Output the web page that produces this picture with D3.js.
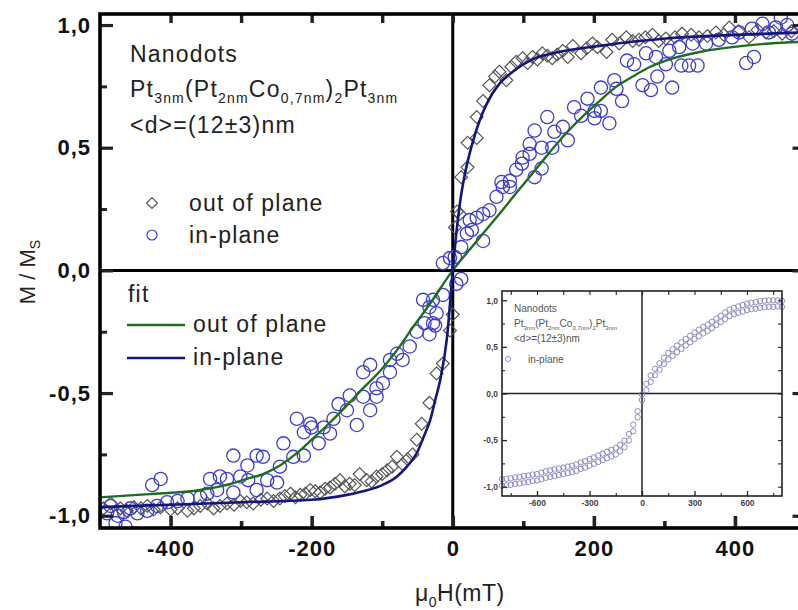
<!DOCTYPE html>
<html>
<head>
<meta charset="utf-8">
<script src="https://cdn.jsdelivr.net/npm/d3@7"></script>
<style>
  body { margin: 0; background: #fff; }
  text { font-family: Arial, "Liberation Sans", sans-serif; }
</style>
</head>
<body>
<svg id="chart" width="798" height="610"></svg>
<script>
// ---- data ----
// out of plane measurement (diamonds): [H (mT), M/Ms]
const outPlanePts = [
  [3,0.175],[6,0.24],[10,0.23],[12,0.38],[21,0.42],[21,0.52],[34,0.54],[34,0.625],[43,0.69],[52,0.755],
  [60,0.79],[66,0.81],[76,0.775],[83,0.83],[90,0.85],[99,0.865],[106,0.845],[113,0.87],[120,0.86],[127,0.885],
  [134,0.875],[141,0.865],[148,0.88],[156,0.895],[163,0.87],[170,0.915],[182,0.885],[190,0.905],[198,0.925],
  [205,0.91],[218,0.89],[226,0.94],[236,0.925],[246,0.95],[255,0.935],[264,0.94],[273,0.95],[283,0.96],
  [292,0.935],[302,0.945],[315,0.95],[325,0.965],[338,0.96],[349,0.95],[361,0.955],[373,0.97],[384,0.96],
  [392,0.99],[405,0.975],[420,0.95],[432,0.98],[444,0.97],[455,0.975],[467,0.965],[480,0.975],
  [0,-0.18],[-4,-0.245],[-14,-0.38],[-23,-0.42],[-33,-0.54],[-44,-0.625],[-51,-0.69],[-57,-0.75],[-64,-0.77],
  [-71,-0.79],[-79,-0.76],[-86,-0.8],[-93,-0.815],[-100,-0.83],[-108,-0.84],[-115,-0.86],[-122,-0.855],
  [-132,-0.83],[-139,-0.875],[-146,-0.87],[-153,-0.88],[-160,-0.855],[-167,-0.87],[-174,-0.885],[-181,-0.89],
  [-188,-0.905],[-195,-0.9],[-202,-0.895],[-209,-0.91],[-216,-0.915],[-223,-0.925],[-230,-0.91],[-238,-0.92],
  [-245,-0.93],[-254,-0.94],[-263,-0.93],[-272,-0.935],[-283,-0.95],[-292,-0.945],[-301,-0.94],[-310,-0.955],
  [-320,-0.95],[-330,-0.96],[-339,-0.97],[-348,-0.95],[-358,-0.96],[-367,-0.97],[-376,-0.98],[-390,-0.97],
  [-400,-0.975],[-414,-0.965],[-424,-0.975],[-433,-0.96],[-442,-0.97],[-452,-0.965],[-462,-0.98],
  [-471,-0.97],[-485,-0.95],[-495,-0.97]
]
// in-plane measurement (circles)
const inPlanePts = [
  [-14,0.03],[-4,0.05],[3,0.055],[12,0.095],[20,0.15],[27,0.165],[24,0.205],[34,0.215],[43,0.12],[43,0.23],
  [52,0.245],[62,0.30],[71,0.34],[69,0.36],[81,0.34],[81,0.365],[90,0.41],[99,0.46],[98,0.435],[109,0.475],
  [109,0.515],[116,0.57],[116,0.38],[126,0.50],[126,0.415],[134,0.625],[141,0.50],[144,0.565],[156,0.585],
  [163,0.53],[172,0.665],[182,0.63],[191,0.70],[201,0.65],[201,0.62],[210,0.65],[210,0.745],[222,0.60],
  [229,0.775],[232,0.74],[240,0.69],[247,0.855],[257,0.84],[269,0.755],[274,0.885],[281,0.735],[290,0.79],
  [288,0.87],[302,0.84],[307,0.895],[311,0.745],[321,0.91],[324,0.835],[335,0.835],[347,0.835],[340,0.925],
  [359,0.925],[377,0.94],[396,0.95],[416,0.845],[427,0.87],[406,0.97],[424,0.985],[439,1.005],[448,0.97],
  [465,1.03],[474,1.0],[481,0.965],[458,0.99],
  [12,-0.035],[5,-0.055],[-14,-0.10],[-42,-0.12],[-28,-0.12],[-33,-0.15],[-23,-0.175],[-28,-0.215],
  [-25,-0.225],[-40,-0.215],[-33,-0.26],[-51,-0.25],[-61,-0.31],[-71,-0.365],[-79,-0.34],[-89,-0.365],
  [-89,-0.415],[-99,-0.46],[-108,-0.48],[-117,-0.385],[-127,-0.415],[-108,-0.515],[-117,-0.57],[-127,-0.515],
  [-136,-0.63],[-146,-0.51],[-150,-0.57],[-162,-0.545],[-169,-0.605],[-174,-0.665],[-183,-0.64],[-190,-0.705],
  [-200,-0.64],[-202,-0.625],[-211,-0.66],[-221,-0.605],[-211,-0.755],[-226,-0.76],[-240,-0.705],[-245,-0.80],
  [-249,-0.865],[-263,-0.855],[-269,-0.76],[-278,-0.755],[-278,-0.895],[-290,-0.855],[-291,-0.795],
  [-301,-0.84],[-311,-0.755],[-311,-0.905],[-320,-0.85],[-330,-0.84],[-334,-0.895],[-344,-0.85],[-348,-0.91],
  [-358,-0.925],[-376,-0.93],[-390,-0.94],[-405,-0.945],[-414,-0.85],[-426,-0.875],[-419,-0.96],[-433,-0.98],
  [-447,-0.99],[-457,-0.97],[-466,-0.985],[-475,-1.0],[-478,-1.03],[-464,-1.045],[-485,-0.96],[-490,-0.99]
]
// fit curves as drawn (legend labels kept as in the figure)
const fitOutPlane = [
  [-500,-0.925],[-430,-0.912],[-358,-0.895],[-315,-0.87],[-292,-0.85],[-269,-0.83],[-245,-0.795],
  [-221,-0.745],[-198,-0.685],[-174,-0.62],[-150,-0.55],[-127,-0.48],[-103,-0.41],[-79,-0.325],
  [-56,-0.23],[-32,-0.135],[0,0],[25,0.088],[50,0.175],[66,0.23],[90,0.315],[113,0.395],[137,0.48],
  [161,0.56],[185,0.63],[208,0.69],[230,0.745],[255,0.79],[280,0.83],[302,0.855],[350,0.89],[396,0.91],
  [450,0.925],[500,0.932]
]
const fitInPlane = [
  [-500,-0.965],[-400,-0.955],[-300,-0.945],[-200,-0.935],[-150,-0.915],[-127,-0.9],[-100,-0.875],
  [-79,-0.84],[-65,-0.8],[-51,-0.745],[-40,-0.67],[-32,-0.61],[-25,-0.53],[-18,-0.45],[-8,-0.27],[0,0],
  [5,0.15],[10,0.27],[15,0.36],[20,0.43],[28,0.52],[38,0.61],[50,0.69],[66,0.76],[85,0.81],[113,0.86],
  [150,0.89],[208,0.915],[302,0.945],[400,0.96],[500,0.97]
]
// inset: in-plane loop, two branches
const insetH = [-800,-775,-750,-725,-700,-675,-650,-625,-600,-575,-550,-525,-500,-475,-450,-425,-400,
  -375,-350,-325,-300,-275,-250,-225,-200,-175,-150,-125,-100,-75,-50,-25,0,25,50,75,100,125,150,175,200,
  225,250,275,300,325,350,375,400,425,450,475,500,525,550,575,600,625,650,675,700,725,750,775,800]
const insetUp = [-0.92,-0.915,-0.91,-0.9,-0.895,-0.885,-0.88,-0.87,-0.865,-0.85,-0.835,-0.825,-0.815,
  -0.805,-0.795,-0.785,-0.775,-0.76,-0.74,-0.725,-0.705,-0.685,-0.665,-0.645,-0.625,-0.605,-0.585,-0.55,
  -0.505,-0.435,-0.335,-0.19,-0.01,0.105,0.195,0.265,0.325,0.385,0.435,0.475,0.515,0.55,0.585,0.62,0.655,
  0.685,0.715,0.74,0.77,0.805,0.835,0.87,0.9,0.92,0.935,0.95,0.965,0.975,0.98,0.99,0.995,1.0,1.0,1.0,0.995]
const insetLo = [-0.99,-0.985,-0.98,-0.97,-0.965,-0.955,-0.95,-0.94,-0.935,-0.92,-0.905,-0.895,-0.885,
  -0.875,-0.865,-0.855,-0.845,-0.83,-0.81,-0.795,-0.775,-0.755,-0.735,-0.715,-0.695,-0.675,-0.655,-0.62,
  -0.575,-0.505,-0.405,-0.255,-0.07,0.035,0.125,0.195,0.255,0.315,0.365,0.405,0.445,0.48,0.515,0.55,0.585,
  0.615,0.645,0.67,0.7,0.735,0.765,0.8,0.83,0.85,0.865,0.88,0.895,0.905,0.91,0.92,0.925,0.93,0.93,0.935,0.93]

// ticks
const xMajor = [-400, -200, 0, 200, 400]
const xMinor = [-300, -100, 100, 300]
const yMajor = [-1, -0.5, 0, 0.5, 1]
const yMinor = [-0.75, -0.25, 0.25, 0.75]
const xiMajor = [-600, -300, 0, 300, 600]
const xiMinor = [-750, -450, -150, 150, 450, 750]

const commaFmt = v => Number.isInteger(v) ? String(v) : v.toFixed(1).replace(".", ",")
const yFmt = v => v.toFixed(1).replace(".", ",")

const svg = d3.select("#chart")
svg.append("rect").attr("width", 798).attr("height", 610).attr("fill", "#fff")

// main scales
const x = d3.scaleLinear().domain([-500, 500]).range([100, 805.5])
const y = d3.scaleLinear().domain([-1.05, 1.045]).range([528, 14])

svg.append("clipPath").attr("id", "plotClip")
  .append("rect").attr("x", 100).attr("y", 14).attr("width", 705.5).attr("height", 514)

// zero lines
svg.append("line").attr("x1", x(0)).attr("x2", x(0)).attr("y1", y.range()[1]).attr("y2", y.range()[0])
  .attr("stroke", "#000").attr("stroke-width", 3)
svg.append("line").attr("x1", x.range()[0]).attr("x2", x.range()[1]).attr("y1", y(0)).attr("y2", y(0))
  .attr("stroke", "#000").attr("stroke-width", 3)

const plot = svg.append("g").attr("clip-path", "url(#plotClip)")

// diamonds
plot.selectAll("path.dia").data(outPlanePts).join("path")
  .attr("class", "dia")
  .attr("d", d3.symbol(d3.symbolDiamond2, 105))
  .attr("transform", d => `translate(${x(d[0])},${y(d[1])})`)
  .attr("fill", "none").attr("stroke", "#555").attr("stroke-width", 1.2)

// circles
plot.selectAll("circle.inp").data(inPlanePts).join("circle")
  .attr("class", "inp")
  .attr("cx", d => x(d[0])).attr("cy", d => y(d[1])).attr("r", 6.6)
  .attr("fill", "none").attr("stroke", "#3c3cd2").attr("stroke-width", 1.3)

// fit lines
const line = d3.line().x(d => x(d[0])).y(d => y(d[1])).curve(d3.curveMonotoneX)
plot.append("path").datum(fitOutPlane).attr("d", line)
  .attr("fill", "none").attr("stroke", "#1f6e1f").attr("stroke-width", 2.4)
plot.append("path").datum(fitInPlane).attr("d", line)
  .attr("fill", "none").attr("stroke", "#15157e").attr("stroke-width", 2.6)

// ---- inset ----
const xi = d3.scaleLinear().domain([-800, 800]).range([502, 782])
const yi = d3.scaleLinear().domain([-1.1, 1.1]).range([496, 291])
const inset = svg.append("g")
inset.append("rect").attr("x", 502).attr("y", 291).attr("width", 280).attr("height", 205)
  .attr("fill", "#fff")
inset.append("line").attr("x1", xi(0)).attr("x2", xi(0)).attr("y1", 291).attr("y2", 496)
  .attr("stroke", "#222").attr("stroke-width", 1.5)
inset.append("line").attr("x1", 502).attr("x2", 782).attr("y1", yi(0)).attr("y2", yi(0))
  .attr("stroke", "#222").attr("stroke-width", 1.5)

const insetPts = insetH.map((h, i) => [h, insetUp[i]]).concat(insetH.map((h, i) => [h, insetLo[i]]))
inset.selectAll("circle.ins").data(insetPts).join("circle")
  .attr("class", "ins")
  .attr("cx", d => xi(d[0])).attr("cy", d => yi(d[1])).attr("r", 2.7)
  .attr("fill", "none").attr("stroke", "#8080c0").attr("stroke-width", 0.9)

function styleAxis(g, w) {
  g.select(".domain").remove()
  g.selectAll(".tick line").attr("stroke", "#222").attr("stroke-width", w)
}
const insetTickText = g => g.selectAll("text").attr("font-size", 8.5).attr("font-weight", "bold").attr("fill", "#444")

inset.append("g").attr("transform", "translate(502,0)")
  .call(d3.axisLeft(yi).tickValues(yMajor).tickSize(-5).tickPadding(4).tickFormat(yFmt))
  .call(g => styleAxis(g, 1.3)).call(insetTickText)
inset.append("g").attr("transform", "translate(502,0)")
  .call(d3.axisLeft(yi).tickValues(yMinor).tickSize(-3).tickFormat(""))
  .call(g => styleAxis(g, 1.1))
inset.append("g").attr("transform", "translate(782,0)")
  .call(d3.axisRight(yi).tickValues(yMajor.concat(yMinor)).tickSize(-4).tickFormat(""))
  .call(g => styleAxis(g, 1.1))
inset.append("g").attr("transform", "translate(0,496)")
  .call(d3.axisBottom(xi).tickValues(xiMajor).tickSize(-5).tickPadding(4).tickFormat(commaFmt))
  .call(g => styleAxis(g, 1.3)).call(insetTickText)
inset.append("g").attr("transform", "translate(0,496)")
  .call(d3.axisBottom(xi).tickValues(xiMinor).tickSize(-3).tickFormat(""))
  .call(g => styleAxis(g, 1.1))
inset.append("g").attr("transform", "translate(0,291)")
  .call(d3.axisTop(xi).tickValues(xiMajor.concat(xiMinor)).tickSize(-4).tickFormat(""))
  .call(g => styleAxis(g, 1.1))
inset.append("rect").attr("x", 502).attr("y", 291).attr("width", 280).attr("height", 205)
  .attr("fill", "none").attr("stroke", "#222").attr("stroke-width", 1.6)

const insetNote = inset.append("g").attr("fill", "#555").attr("font-size", 10)
insetNote.append("text").attr("x", 514).attr("y", 312).text("Nanodots")
const ipt = insetNote.append("text").attr("x", 514).attr("y", 327)
ipt.append("tspan").text("Pt")
ipt.append("tspan").attr("font-size", 6).attr("dy", 3).text("3nm")
ipt.append("tspan").attr("dy", -3).text("(Pt")
ipt.append("tspan").attr("font-size", 6).attr("dy", 3).text("2nm")
ipt.append("tspan").attr("dy", -3).text("Co")
ipt.append("tspan").attr("font-size", 6).attr("dy", 3).text("0,7nm")
ipt.append("tspan").attr("dy", -3).text(")")
ipt.append("tspan").attr("font-size", 6).attr("dy", 3).text("2")
ipt.append("tspan").attr("dy", -3).text("Pt")
ipt.append("tspan").attr("font-size", 6).attr("dy", 3).text("3nm")
insetNote.append("text").attr("x", 514).attr("y", 342).text("<d>=(12±3)nm")
inset.append("circle").attr("cx", xi(-765)).attr("cy", 359).attr("r", 2.5)
  .attr("fill", "none").attr("stroke", "#8080c0").attr("stroke-width", 0.9)
insetNote.append("text").attr("x", 528).attr("y", 363).text("in-plane")

// ---- main axes ----
const mainTickText = g => g.selectAll("text").attr("font-size", 22).attr("font-weight", "bold")
  .attr("fill", "#111").attr("letter-spacing", 1)

svg.append("g").attr("transform", "translate(100,0)")
  .call(d3.axisLeft(y).tickValues(yMajor).tickSize(-13).tickPadding(9).tickFormat(yFmt))
  .call(g => styleAxis(g, 3.2)).call(mainTickText)
svg.append("g").attr("transform", "translate(100,0)")
  .call(d3.axisLeft(y).tickValues(yMinor).tickSize(-7).tickFormat(""))
  .call(g => styleAxis(g, 3))
svg.append("g").attr("transform", "translate(805.5,0)")
  .call(d3.axisRight(y).tickValues(yMajor).tickSize(-13).tickFormat(""))
  .call(g => styleAxis(g, 3.2))
svg.append("g").attr("transform", "translate(805.5,0)")
  .call(d3.axisRight(y).tickValues(yMinor).tickSize(-7).tickFormat(""))
  .call(g => g.select(".domain").remove())
  .call(g => g.selectAll(".tick line").attr("stroke", "#bbb").attr("stroke-width", 2))
svg.append("g").attr("transform", "translate(0,528)")
  .call(d3.axisBottom(x).tickValues(xMajor).tickSize(-12).tickPadding(12).tickFormat(commaFmt))
  .call(g => styleAxis(g, 3.6)).call(mainTickText)
svg.append("g").attr("transform", "translate(0,528)")
  .call(d3.axisBottom(x).tickValues(xMinor).tickSize(-7).tickFormat(""))
  .call(g => styleAxis(g, 3.6))
svg.append("g").attr("transform", "translate(0,14)")
  .call(d3.axisTop(x).tickValues(xMajor.concat(xMinor)).tickSize(-9).tickFormat(""))
  .call(g => styleAxis(g, 3.4))

// frame (right side falls outside the picture)
svg.append("rect").attr("x", 100).attr("y", 14).attr("width", 705.5).attr("height", 514)
  .attr("fill", "none").attr("stroke", "#000").attr("stroke-width", 3.6)

// axis titles
const yTitle = svg.append("text").attr("transform", "translate(35,272) rotate(-90)")
  .attr("text-anchor", "middle").attr("font-size", 22).attr("fill", "#222")
yTitle.append("tspan").text("M / M")
yTitle.append("tspan").attr("font-size", 14).attr("dy", 5).text("S")

const xTitle = svg.append("text").attr("x", 415).attr("y", 601)
  .attr("font-size", 23).attr("fill", "#222").attr("letter-spacing", 0.5)
xTitle.append("tspan").text("μ")
xTitle.append("tspan").attr("font-size", 14).attr("dy", 6).text("0")
xTitle.append("tspan").attr("dy", -6).text("H(mT)")

// ---- annotation and legends ----
const note = svg.append("g").attr("fill", "#222").attr("font-size", 23).attr("letter-spacing", 1.2)
note.append("text").attr("x", 130).attr("y", 62).text("Nanodots")
const pt = note.append("text").attr("x", 130).attr("y", 97)
pt.append("tspan").text("Pt")
pt.append("tspan").attr("font-size", 14).attr("dy", 6).text("3nm")
pt.append("tspan").attr("dy", -6).text("(Pt")
pt.append("tspan").attr("font-size", 14).attr("dy", 6).text("2nm")
pt.append("tspan").attr("dy", -6).text("Co")
pt.append("tspan").attr("font-size", 14).attr("dy", 6).text("0,7nm")
pt.append("tspan").attr("dy", -6).text(")")
pt.append("tspan").attr("font-size", 14).attr("dy", 6).text("2")
pt.append("tspan").attr("dy", -6).text("Pt")
pt.append("tspan").attr("font-size", 14).attr("dy", 6).text("3nm")
note.append("text").attr("x", 130).attr("y", 133).text("<d>=(12±3)nm")

svg.append("path").attr("d", d3.symbol(d3.symbolDiamond2, 75))
  .attr("transform", "translate(152,203)")
  .attr("fill", "none").attr("stroke", "#555").attr("stroke-width", 1.2)
note.append("text").attr("x", 189).attr("y", 211).text("out of plane")
svg.append("circle").attr("cx", 152).attr("cy", 235).attr("r", 5)
  .attr("fill", "none").attr("stroke", "#3c3cd2").attr("stroke-width", 1.2)
note.append("text").attr("x", 189).attr("y", 243).text("in-plane")

note.append("text").attr("x", 128).attr("y", 302).text("fit")
svg.append("line").attr("x1", 127).attr("x2", 185).attr("y1", 325).attr("y2", 325)
  .attr("stroke", "#1f6e1f").attr("stroke-width", 2.4)
note.append("text").attr("x", 193).attr("y", 332).text("out of plane")
svg.append("line").attr("x1", 127).attr("x2", 185).attr("y1", 358).attr("y2", 358)
  .attr("stroke", "#15157e").attr("stroke-width", 2.6)
note.append("text").attr("x", 193).attr("y", 365).text("in-plane")
</script>
</body>
</html>
